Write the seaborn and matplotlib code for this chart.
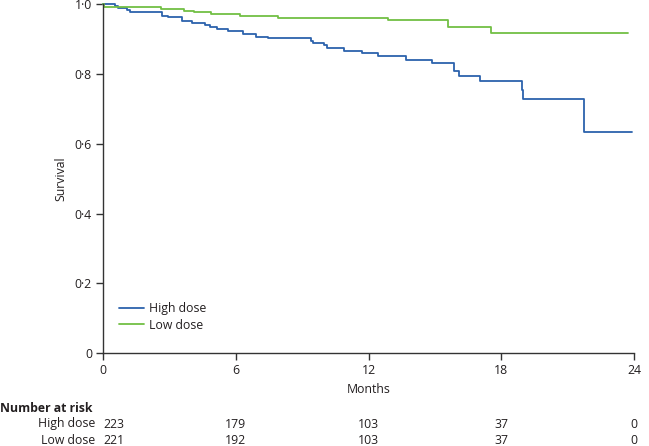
import pandas as pd
import matplotlib
matplotlib.use("Agg")
import matplotlib.pyplot as plt
import matplotlib.transforms as mtransforms
import seaborn as sns

# Kaplan-Meier steps (months, survival)
high_t = [0, 0.56, 0.70, 1.07, 1.24, 2.65, 2.92, 3.59, 4.01, 4.61, 4.84, 5.15, 5.63,
          6.31, 6.92, 7.44, 9.40, 9.51, 10.0, 10.14, 10.90, 11.69, 12.44, 13.69, 14.88,
          15.88, 16.10, 17.04, 18.92, 18.97, 21.71, 23.9]
high_s = [1.0, 0.996, 0.989, 0.984, 0.978, 0.967, 0.963, 0.952, 0.946, 0.941, 0.935, 0.930, 0.924,
          0.916, 0.908, 0.903, 0.896, 0.889, 0.883, 0.874, 0.867, 0.862, 0.852, 0.841, 0.831,
          0.809, 0.794, 0.781, 0.755, 0.728, 0.635, 0.635]
low_t = [0, 0.05, 2.62, 3.68, 4.09, 4.90, 6.19, 7.92, 12.89, 15.57, 17.54, 23.7]
low_s = [1.0, 0.993, 0.988, 0.981, 0.978, 0.972, 0.967, 0.961, 0.954, 0.935, 0.917, 0.917]

groups = ["High dose", "Low dose"]
risk_months = [0, 6, 12, 18, 24]
risk_high = [223, 179, 103, 37, 0]
risk_low = [221, 192, 103, 37, 0]
y_ticks = [0, 0.2, 0.4, 0.6, 0.8, 1.0]

df = pd.concat([
    pd.DataFrame({"Months": high_t, "Survival": high_s, "group": groups[0]}),
    pd.DataFrame({"Months": low_t, "Survival": low_s, "group": groups[1]}),
])

sns.set_style("ticks")
plt.rcParams["font.family"] = ["Open Sans", "DejaVu Sans"]
txt = "#231f20"
fs = 8.8

fig = plt.figure(figsize=(6.49, 4.46), dpi=100)
ax = fig.add_axes([0.1587, 0.2085, 0.8185, 0.7815])

palette = {"High dose": "#2c62ad", "Low dose": "#72bf44"}
sns.lineplot(data=df, x="Months", y="Survival", hue="group", palette=palette,
             estimator=None, sort=True, drawstyle="steps-post", linewidth=1.3,
             ax=ax, clip_on=False)

ax.set_xlim(0, 24)
ax.set_ylim(0, 1.0)
ax.set_xticks(risk_months)
ax.set_yticks(y_ticks)
ax.set_yticklabels(["0" if v == 0 else f"{v:.1f}".replace(".", "·") for v in y_ticks])
sns.despine(ax=ax)
for s in ["left", "bottom"]:
    ax.spines[s].set_color("#333333")
    ax.spines[s].set_linewidth(1.0)
ax.tick_params(axis="both", length=5, width=1, color="#333333", labelsize=fs,
               labelcolor=txt, pad=3)
ax.set_xlabel("Months", fontsize=fs, color=txt, labelpad=4)
ax.set_ylabel("Survival", fontsize=fs, color=txt, labelpad=5)

leg = ax.legend(loc="lower left", bbox_to_anchor=(0.01, 0.03), frameon=False,
                fontsize=fs, handlelength=2.0, handletextpad=0.45, labelspacing=0.3)
for t in leg.get_texts():
    t.set_color(txt)

# number at risk table
fig.text(0.0, (446 - 408) / 446, "Number at risk", fontsize=fs, fontweight="bold",
         color=txt, va="center", ha="left")
trans = mtransforms.blended_transform_factory(ax.transData, fig.transFigure)
for row, (name, vals) in enumerate(zip(groups, [risk_high, risk_low])):
    yy = (446 - 424 - 16 * row) / 446
    fig.text(95 / 649, yy, name, fontsize=fs, color=txt, va="center", ha="right")
    for m, v in zip(risk_months, vals):
        ha = "left" if m == 0 else "center"
        ax.text(m, yy, str(v), transform=trans, fontsize=fs, color=txt,
                va="center", ha=ha)

fig.savefig("out.png", dpi=100)
